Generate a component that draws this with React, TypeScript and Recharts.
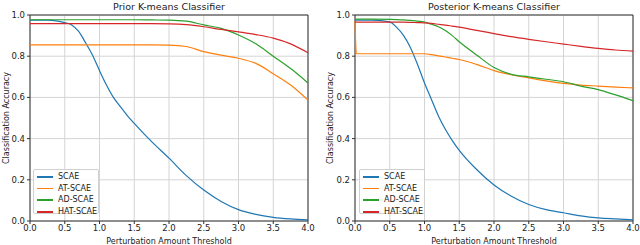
import { LineChart, Line, XAxis, YAxis, CartesianGrid, ReferenceArea } from "recharts";

// perturbation thresholds (x values)
const priorThresholds = [0, 0.25, 0.4, 0.5, 0.6, 0.7, 0.8, 0.9, 1.0, 1.1, 1.2, 1.3, 1.4, 1.5, 1.75, 2.0, 2.25, 2.5, 2.75, 3.0, 3.25, 3.5, 3.75, 4.0];
const priorScae = [0.975, 0.975, 0.97, 0.963, 0.952, 0.92, 0.865, 0.805, 0.73, 0.66, 0.6, 0.555, 0.512, 0.474, 0.385, 0.305, 0.22, 0.15, 0.095, 0.055, 0.032, 0.018, 0.01, 0.005];
const priorAtScae = [0.855, 0.855, 0.855, 0.855, 0.855, 0.855, 0.855, 0.855, 0.855, 0.855, 0.855, 0.855, 0.855, 0.855, 0.855, 0.854, 0.847, 0.822, 0.805, 0.79, 0.765, 0.715, 0.66, 0.587];
const priorAdScae = [0.977, 0.977, 0.977, 0.977, 0.977, 0.977, 0.977, 0.977, 0.977, 0.977, 0.977, 0.977, 0.977, 0.977, 0.976, 0.975, 0.97, 0.952, 0.935, 0.903, 0.86, 0.8, 0.74, 0.67];
const priorHatScae = [0.958, 0.958, 0.958, 0.958, 0.958, 0.958, 0.958, 0.958, 0.958, 0.958, 0.958, 0.958, 0.958, 0.958, 0.958, 0.957, 0.953, 0.943, 0.93, 0.918, 0.905, 0.888, 0.86, 0.817];

const postThresholds = [0, 0.02, 0.25, 0.5, 0.6, 0.7, 0.8, 0.9, 1.0, 1.1, 1.2, 1.3, 1.4, 1.5, 1.75, 2.0, 2.25, 2.5, 2.75, 3.0, 3.25, 3.5, 3.75, 4.0];
const postScae = [0.975, 0.975, 0.975, 0.967, 0.94, 0.9, 0.84, 0.76, 0.67, 0.59, 0.51, 0.445, 0.39, 0.343, 0.25, 0.175, 0.12, 0.08, 0.055, 0.04, 0.025, 0.015, 0.01, 0.006];
const postAtScae = [0.97, 0.812, 0.812, 0.812, 0.812, 0.812, 0.812, 0.812, 0.812, 0.808, 0.802, 0.796, 0.79, 0.784, 0.76, 0.73, 0.71, 0.695, 0.68, 0.668, 0.66, 0.655, 0.65, 0.646];
const postAdScae = [0.98, 0.98, 0.98, 0.979, 0.978, 0.976, 0.974, 0.97, 0.966, 0.955, 0.943, 0.925, 0.9, 0.87, 0.806, 0.745, 0.712, 0.7, 0.688, 0.676, 0.655, 0.638, 0.612, 0.584];
const postHatScae = [0.965, 0.965, 0.965, 0.965, 0.965, 0.965, 0.964, 0.963, 0.962, 0.959, 0.955, 0.951, 0.946, 0.941, 0.925, 0.91, 0.895, 0.882, 0.87, 0.859, 0.848, 0.838, 0.83, 0.825];

const seriesNames = ["SCAE", "AT-SCAE", "AD-SCAE", "HAT-SCAE"];
const seriesColors = ["#1f77b4", "#ff7f0e", "#2ca02c", "#d62728"];
const xTicks = [0, 0.5, 1.0, 1.5, 2.0, 2.5, 3.0, 3.5, 4.0];
const yTicks = [0, 0.2, 0.4, 0.6, 0.8, 1.0];

const FONT = "'DejaVu Sans', sans-serif";

function buildRows(xs: number[], cols: number[][]) {
  return xs.map((t, i) => {
    const row: any = { t };
    cols.forEach((c, k) => (row["s" + k] = c[i]));
    return row;
  });
}

function Panel({
  title,
  data,
  left,
  yAxisWidth,
  yLabelOffset,
  marginRight,
  legendX,
}: {
  title: string;
  data: any[];
  left: number;
  yAxisWidth: number;
  yLabelOffset: number;
  marginRight: number;
  legendX: number;
}) {
  const plotLeft = yAxisWidth;
  const plotRight = 320 - marginRight;
  return (
    <div style={{ position: "absolute", left, top: 0, width: 320, height: 245, overflow: "hidden" }}>
      <div
        style={{
          position: "absolute",
          left: plotLeft,
          width: plotRight - plotLeft,
          top: 0,
          textAlign: "center",
          fontFamily: FONT,
          fontSize: 9.5,
          lineHeight: "14px",
          color: "#222",
        }}
      >
        {title}
      </div>
      <LineChart width={320} height={245} data={data} margin={{ top: 15, right: marginRight, bottom: 0, left: 0 }}>
        <CartesianGrid stroke="#d4d4d4" strokeWidth={1} />
        <XAxis
          dataKey="t"
          type="number"
          domain={[0, 4]}
          ticks={xTicks}
          tickFormatter={(v) => Number(v).toFixed(1)}
          axisLine={false}
          tickSize={3}
          tickMargin={1}
          height={24}
          tick={{ fontSize: 8.5, fill: "#222", fontFamily: FONT }}
          tickLine={{ stroke: "#333" }}
          label={{ value: "Perturbation Amount Threshold", position: "insideBottom", offset: 1, fontSize: 8, fill: "#222", fontFamily: FONT }}
        />
        <YAxis
          type="number"
          domain={[0, 1]}
          ticks={yTicks}
          tickFormatter={(v) => Number(v).toFixed(1)}
          axisLine={false}
          tickSize={3}
          tickMargin={2}
          width={yAxisWidth}
          tick={{ fontSize: 8.5, fill: "#222", fontFamily: FONT }}
          tickLine={{ stroke: "#333" }}
          label={{
            value: "Classification Accuracy",
            angle: -90,
            position: "insideLeft",
            offset: yLabelOffset,
            fontSize: 8,
            fill: "#222",
            fontFamily: FONT,
            style: { textAnchor: "middle" },
          }}
        />
        {seriesNames.map((name, k) => (
          <Line
            key={name}
            dataKey={"s" + k}
            name={name}
            type="monotone"
            stroke={seriesColors[k]}
            strokeWidth={1.2}
            dot={false}
            isAnimationActive={false}
          />
        ))}
        <ReferenceArea x1={0} x2={4} y1={0} y2={1} fill="none" stroke="#333" strokeWidth={1} />
      </LineChart>
      <div
        style={{
          position: "absolute",
          left: legendX,
          top: 169,
          width: 66,
          height: 45,
          border: "1px solid #d0d0d0",
          borderRadius: 2,
          background: "rgba(255,255,255,0.85)",
          boxSizing: "border-box",
          fontFamily: FONT,
          fontSize: 8,
          color: "#222",
        }}
      >
        {seriesNames.map((name, k) => (
          <div key={name} style={{ position: "absolute", top: 1 + k * 11.7, left: 0, height: 11, width: 64 }}>
            <span
              style={{
                position: "absolute",
                left: 3,
                width: 16,
                top: 5,
                height: 1.5,
                background: seriesColors[k],
              }}
            />
            <span style={{ position: "absolute", left: 24, top: 0, width: 40, lineHeight: "11px", whiteSpace: "nowrap" }}>
              {name}
            </span>
          </div>
        ))}
      </div>
    </div>
  );
}

export default function App() {
  const prior = buildRows(priorThresholds, [priorScae, priorAtScae, priorAdScae, priorHatScae]);
  const post = buildRows(postThresholds, [postScae, postAtScae, postAdScae, postHatScae]);
  return (
    <div style={{ position: "absolute", left: 0, top: 0, width: 640, height: 245, background: "#fff" }}>
      <Panel
        title="Prior K-means Classifier"
        data={prior}
        left={0}
        yAxisWidth={30}
        yLabelOffset={6}
        marginRight={12}
        legendX={33}
      />
      <Panel
        title="Posterior K-means Classifier"
        data={post}
        left={320}
        yAxisWidth={35}
        yLabelOffset={10}
        marginRight={7}
        legendX={39}
      />
    </div>
  );
}
